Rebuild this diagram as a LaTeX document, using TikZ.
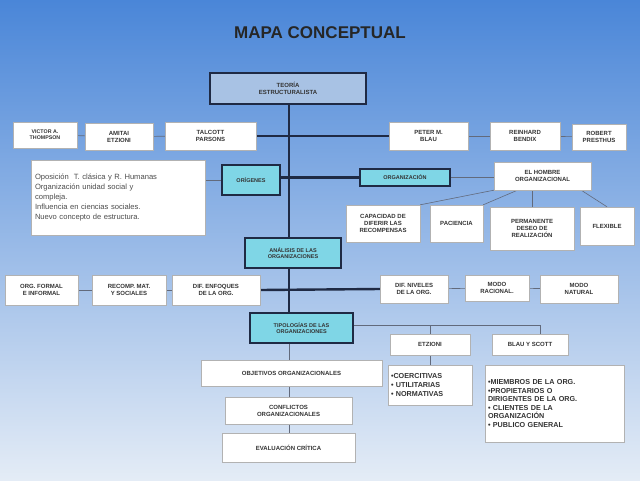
\documentclass[tikz,border=0pt]{standalone}
\usepackage{fontspec}
\setmainfont{Liberation Sans}
\usetikzlibrary{shadows}
\pgfdeclarelayer{bg}
\pgfdeclarelayer{lines}
\pgfsetlayers{bg,lines,main}
\definecolor{bgtop}{HTML}{4A86D8}
\definecolor{bgbot}{HTML}{E4ECF6}
\definecolor{cyanbox}{HTML}{7FD6E6}
\definecolor{titlebox}{HTML}{A8C2E4}
\definecolor{ln}{HTML}{1F2A44}
\newcommand{\bx}[7]{\node[#6, minimum width={(#4-#2)*1pt}, minimum height={(#5-#3)*1pt}] (#1) at ({(#2+#4)/2},{(#3+#5)/2}) {#7};}
\begin{document}
\begin{tikzpicture}[x=1pt,y=-1pt,
  wb/.style={draw=gray!60, fill=white, inner sep=1pt, align=center, font=\fontsize{6}{7}\selectfont\bfseries, text=black!80, drop shadow={opacity=0.25, shadow xshift=1pt, shadow yshift=-1pt}},
  cb/.style={wb, fill=cyanbox, draw=ln, line width=1.2pt, font=\fontsize{5.5}{6.5}\selectfont\bfseries},
  lst/.style={wb, align=left, font=\fontsize{7.2}{8.6}\selectfont\bfseries},
  thick line/.style={ln, line width=2.4pt},
  thin line/.style={ln!70, line width=0.6pt}]
\begin{pgfonlayer}{bg}
\shade[top color=bgtop, bottom color=bgbot] (0,0) rectangle (640,480);
\end{pgfonlayer}
\useasboundingbox (0,0) rectangle (640,480);
\node[font=\fontsize{17}{19}\selectfont\bfseries, text=black!85] (title) at (320,33) {MAPA CONCEPTUAL};
\bx{teoria}{210}{73}{366}{104}{wb, fill=titlebox, draw=ln, line width=1.2pt}{TEORÍA\\ESTRUCTURALISTA}
\bx{victor}{13}{122}{77}{148}{wb, font=\fontsize{5.3}{6.3}\selectfont\bfseries}{VICTOR A.\\THOMPSON}
\bx{amitai}{85}{123}{153}{150}{wb}{AMITAI\\ETZIONI}
\bx{talcott}{165}{122}{256}{150}{wb}{TALCOTT\\PARSONS}
\bx{peter}{389}{122}{468}{150}{wb}{PETER M.\\BLAU}
\bx{reinhard}{490}{122}{560}{150}{wb}{REINHARD\\BENDIX}
\bx{robert}{572}{124}{626}{150}{wb}{ROBERT\\PRESTHUS}
\bx{texto}{31}{160}{205}{235}{wb, align=left, font=\fontsize{7.6}{9.8}\selectfont, text=black!70, text width=166pt}{Oposición\ \ T. clásica y R. Humanas\\Organización unidad social y\\compleja.\\Influencia en ciencias sociales.\\Nuevo concepto de estructura.}
\bx{origenes}{222}{165}{280}{195}{cb}{ORÍGENES}
\bx{organiz}{360}{169}{450}{186}{cb}{ORGANIZACIÓN}
\bx{hombre}{494}{162}{591}{190}{wb}{EL HOMBRE\\ORGANIZACIONAL}
\bx{capac}{346}{205}{420}{242}{wb}{CAPACIDAD DE\\DIFERIR LAS\\RECOMPENSAS}
\bx{pacien}{430}{205}{483}{242}{wb}{PACIENCIA}
\bx{perman}{490}{207}{574}{250}{wb}{PERMANENTE\\DESEO DE\\REALIZACIÓN}
\bx{flex}{580}{207}{634}{245}{wb}{FLEXIBLE}
\bx{analisis}{245}{238}{341}{268}{cb}{ANÁLISIS DE LAS\\ORGANIZACIONES}
\bx{formal}{5}{275}{78}{305}{wb}{ORG. FORMAL\\E INFORMAL}
\bx{recomp}{92}{275}{166}{305}{wb}{RECOMP. MAT.\\Y SOCIALES}
\bx{enfoq}{172}{275}{260}{305}{wb}{DIF. ENFOQUES\\DE LA ORG.}
\bx{niveles}{380}{275}{448}{303}{wb}{DIF. NIVELES\\DE LA ORG.}
\bx{racional}{465}{275}{529}{301}{wb}{MODO\\RACIONAL.}
\bx{natural}{540}{275}{618}{303}{wb}{MODO\\NATURAL}
\bx{tipol}{250}{313}{353}{343}{cb}{TIPOLOGÍAS DE LAS\\ORGANIZACIONES}
\bx{etzioni}{390}{334}{470}{355}{wb}{ETZIONI}
\bx{blau}{492}{334}{568}{355}{wb}{BLAU Y SCOTT}
\bx{objet}{201}{360}{382}{386}{wb}{OBJETIVOS ORGANIZACIONALES}
\bx{coerc}{388}{365}{472}{405}{lst, text width=78pt}{•COERCITIVAS\\• UTILITARIAS\\• NORMATIVAS}
\bx{miemb}{485}{365}{624}{442}{lst, text width=133pt}{•MIEMBROS DE LA ORG.\\•PROPIETARIOS O\\DIRIGENTES DE LA ORG.\\• CLIENTES DE LA\\ORGANIZACIÓN\\• PUBLICO GENERAL}
\bx{confl}{225}{397}{352}{424}{wb}{CONFLICTOS\\ORGANIZACIONALES}
\bx{evalu}{222}{433}{355}{462}{wb}{EVALUACIÓN CRÍTICA}
\coordinate (tx) at (289,0);
\coordinate (te) at (430,325);
\coordinate (tb) at (540,325);
\begin{pgfonlayer}{lines}
\draw[thick line] (teoria.south -| tx) -- (tipol.north -| tx);
\draw[thick line] (talcott.east) -- (peter.west);
\draw[thick line] (origenes.east |- organiz) -- (organiz.west);
\draw[thick line] (enfoq.east) -- (niveles.west);
\draw[thin line] (victor) -- (amitai);
\draw[thin line] (amitai) -- (talcott);
\draw[thin line] (peter) -- (reinhard);
\draw[thin line] (reinhard) -- (robert);
\draw[thin line] (texto.east |- origenes) -- (origenes.west);
\draw[thin line] (organiz.east) -- (hombre.west |- organiz);
\draw[thin line] (hombre.south west) -- (capac.north east);
\draw[thin line] (hombre.south) ++(-25,0) -- (pacien.north east);
\draw[thin line] (hombre.south -| perman.north) -- (perman.north);
\draw[thin line] (hombre.south east) ++(-10,0) -- (flex.north);
\draw[thin line] (formal) -- (recomp);
\draw[thin line] (recomp) -- (enfoq);
\draw[thin line] (niveles) -- (racional);
\draw[thin line] (racional) -- (natural);
\draw[thin line] (tipol.east |- te) -- (tb) -- (blau.north -| tb);
\draw[thin line] (te) -- (etzioni.north -| te);
\draw[thin line] (etzioni.south -| te) -- (coerc.north -| te);
\draw[thin line] (tipol.south -| tx) -- (objet.north -| tx);
\draw[thin line] (objet.south -| tx) -- (confl.north -| tx);
\draw[thin line] (confl.south -| tx) -- (evalu.north -| tx);
\end{pgfonlayer}
\end{tikzpicture}
\end{document}
